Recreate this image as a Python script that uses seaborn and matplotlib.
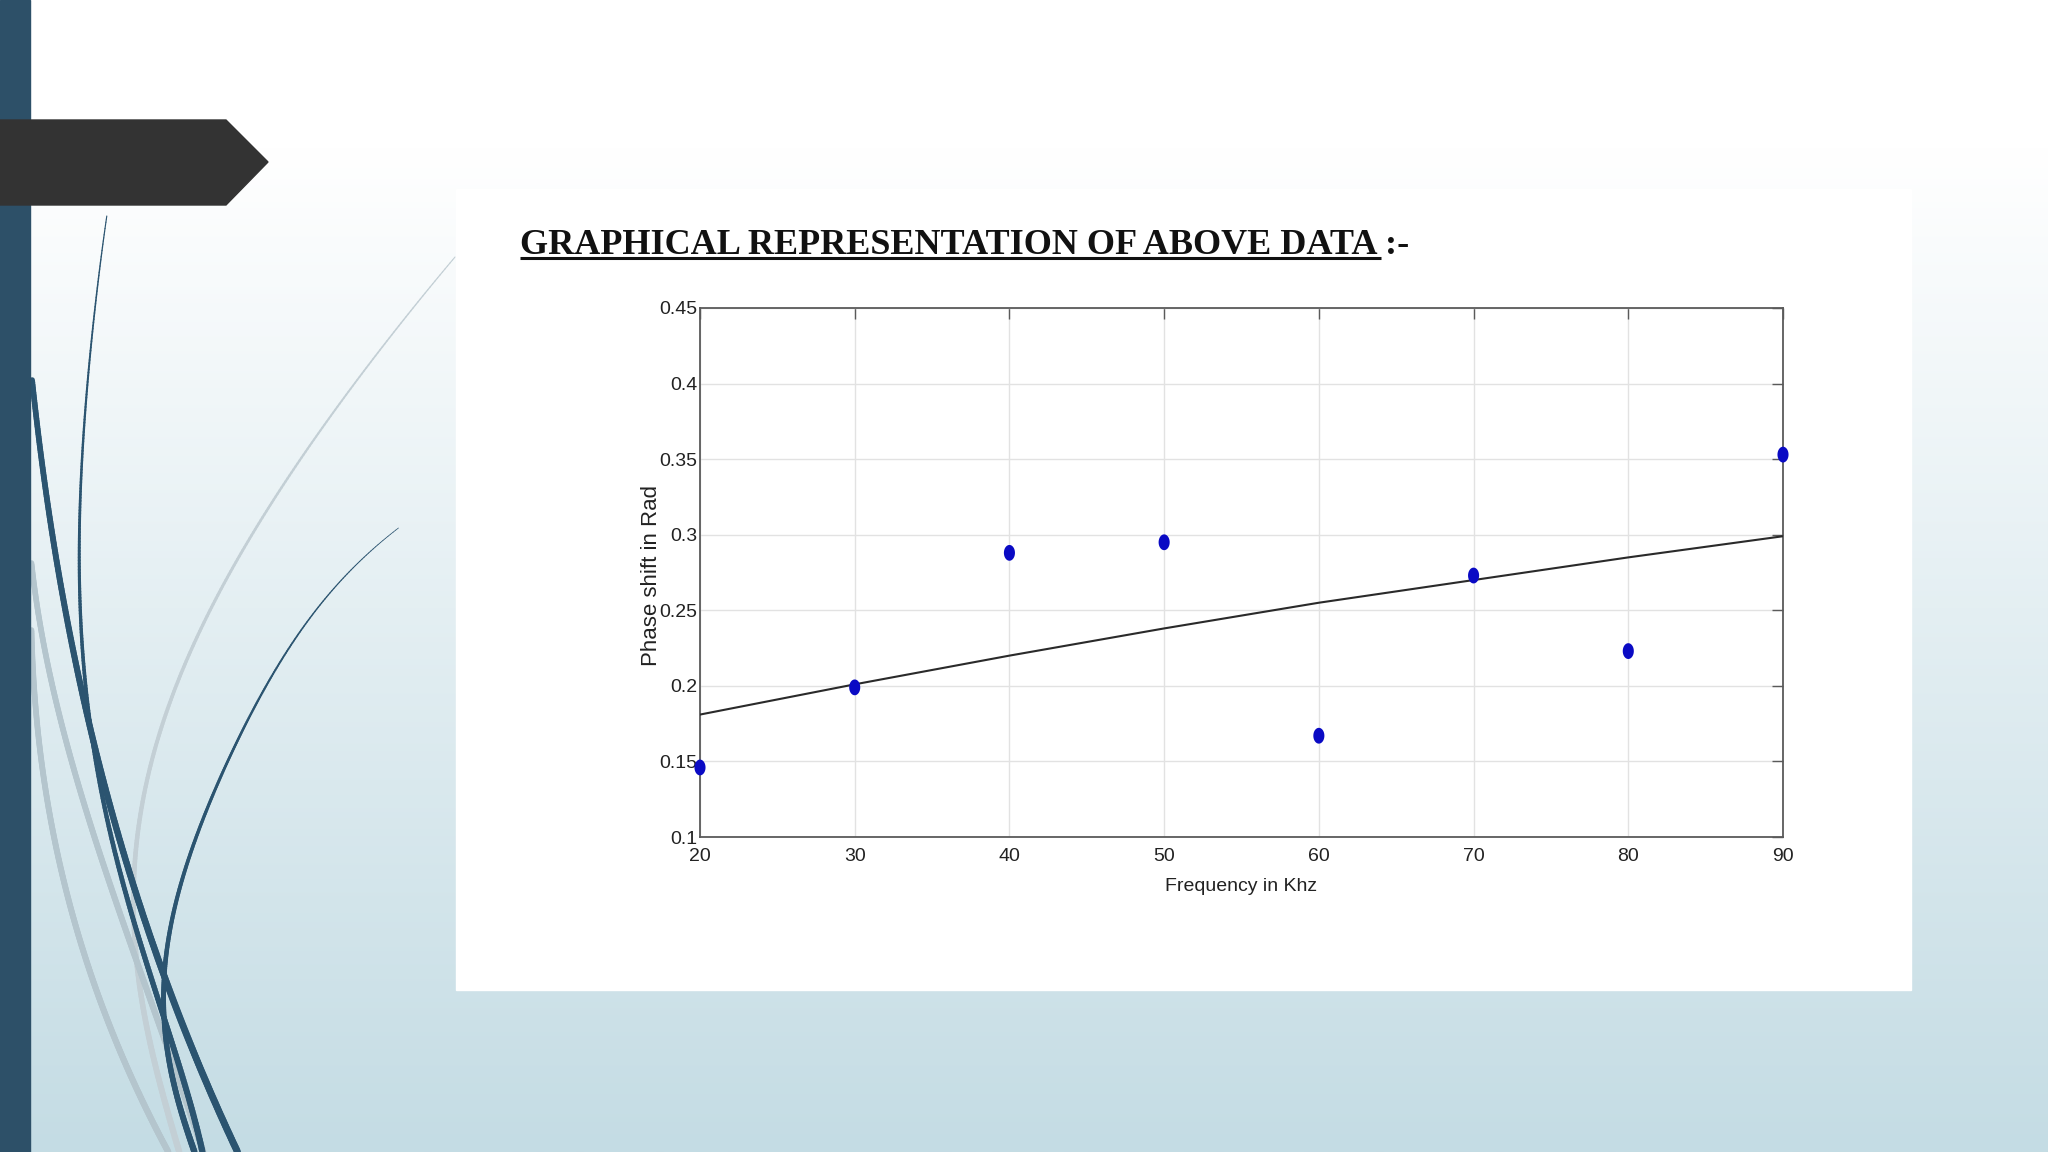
import numpy as np
import matplotlib
matplotlib.use("Agg")
import matplotlib.pyplot as plt
import seaborn as sns
from matplotlib.path import Path
from matplotlib.patches import Rectangle, Polygon
from matplotlib.collections import LineCollection

# ---------------- data ----------------
freq_khz = [20, 30, 40, 50, 60, 70, 80, 90]
phase_rad = [0.146, 0.199, 0.288, 0.295, 0.167, 0.273, 0.223, 0.353]
fit_x = [20, 30, 40, 50, 60, 70, 80, 90]
fit_y = [0.181, 0.201, 0.220, 0.238, 0.255, 0.270, 0.285, 0.299]
x_ticks = [20, 30, 40, 50, 60, 70, 80, 90]
y_ticks = [0.1, 0.15, 0.2, 0.25, 0.3, 0.35, 0.4, 0.45]
y_tick_labels = ["0.1", "0.15", "0.2", "0.25", "0.3", "0.35", "0.4", "0.45"]
title = "GRAPHICAL REPRESENTATION OF ABOVE DATA "
title_tail = ":-"
x_label = "Frequency in Khz"
y_label = "Phase shift in Rad"

sns.set_style("white")
plt.rcParams["font.family"] = ["Liberation Sans", "DejaVu Sans"]

W, H = 2048, 1152
fig = plt.figure(figsize=(20.48, 11.52), dpi=100)

# ---------------- slide background ----------------
bg = fig.add_axes([0, 0, 1, 1])
bg.set_xlim(0, W)
bg.set_ylim(H, 0)
bg.axis("off")

top_c = np.array([1.0, 1.0, 1.0])
bot_c = np.array([0xc4, 0xdc, 0xe4]) / 255.0
yy = np.linspace(0, 1, 400)
t = np.clip((yy * H - 150) / (H - 150), 0, 1)
grad = top_c[None, :] * (1 - t[:, None]) + bot_c[None, :] * t[:, None]
bg.imshow(grad[:, None, :], extent=[0, W, H, 0], aspect="auto", zorder=0)


def curve(pts, color, w0, w1, z=1, deg=4):
    p = np.array(pts, dtype=float)
    coef = np.polyfit(p[:, 1], p[:, 0], deg)
    ys = np.linspace(p[0, 1], p[-1, 1], 300)
    xs = np.polyval(coef, ys)
    c = np.c_[xs, ys]
    segs = np.stack([c[:-1], c[1:]], axis=1)
    lw = np.linspace(w0, w1, len(segs))
    bg.add_collection(LineCollection(segs, colors=color, linewidths=lw, zorder=z,
                                     capstyle="round"))


gray = "#b4c5cd"
dark = "#2b5470"
# light grey sweeps
curve([(455, 257), (383, 347), (306, 447), (249, 547), (199, 630), (170, 700),
       (153, 750), (138, 850), (134, 933), (145, 1017), (168, 1117), (180, 1152)],
      "#c3cfd5", 0.8, 4.5, 1, deg=5)
curve([(31, 563), (46, 650), (77, 783), (115, 900), (145, 983), (180, 1083), (203, 1152)],
      gray, 4, 4.5, 1, deg=3)
curve([(31, 630), (42, 750), (61, 883), (96, 983), (134, 1083), (168, 1152)],
      gray, 4, 4.5, 1, deg=3)
# dark sweeps
curve([(107, 216), (94, 313), (85, 413), (80, 547), (84, 650), (88, 733), (115, 850),
       (145, 950), (172, 1050), (203, 1152)], dark, 0.8, 4.5, 2, deg=5)
curve([(31, 380), (46, 480), (61, 580), (73, 650), (92, 750), (134, 883), (168, 983),
       (237, 1152)], dark, 4, 5, 2, deg=3)
curve([(400, 528), (337, 580), (287, 660), (230, 750), (191, 850), (168, 950),
       (165, 1017), (172, 1083), (195, 1152)], dark, 0.5, 4.5, 2, deg=5)

bg.add_patch(Rectangle((0, 0), 30, H, color="#2d5068", zorder=3))
bg.add_patch(Polygon([(0, 120), (226, 120), (268, 162), (226, 205), (0, 205)],
                     closed=True, color="#333333", zorder=4))
bg.add_patch(Rectangle((456, 189), 1455, 801, color="white", zorder=5))

# ---------------- title ----------------
tfs = 26
ty = 246
tt = fig.text(520 / W, 1 - ty / H, title, fontfamily="Liberation Serif", fontweight="bold",
              fontsize=tfs, va="center", ha="left", color="#111111", zorder=6)
fig.canvas.draw()
bb = tt.get_window_extent()
fig.text(bb.x1 / W, 1 - ty / H, title_tail, fontfamily="Liberation Serif", fontweight="bold",
         fontsize=tfs, va="center", ha="left", color="#111111")
bg.plot([bb.x0, bb.x1 - 4], [258, 258], color="#111111", lw=2.2, zorder=6,
        solid_capstyle="butt")

# ---------------- chart ----------------
ax = fig.add_axes([700 / W, 1 - 837 / H, 1083 / W, 529 / H])
ax.set_zorder(7)
ax.patch.set_facecolor("white")

th = np.linspace(0, 2 * np.pi, 41)
ell = Path(np.c_[0.70 * np.cos(th), np.sin(th)])
sns.lineplot(x=fit_x, y=fit_y, ax=ax, color="#2a2a2a", linewidth=1.5, zorder=3)
sns.scatterplot(x=freq_khz, y=phase_rad, ax=ax, color="#0a0ac4", marker=ell, s=130,
                edgecolor="none", zorder=4, clip_on=False)

ax.set_xlim(20, 90)
ax.set_ylim(0.1, 0.45)
ax.set_xticks(x_ticks)
ax.set_xticklabels([str(v) for v in x_ticks])
ax.set_yticks(y_ticks)
ax.set_yticklabels(y_tick_labels)
ax.grid(True, color="#e2e2e2", linewidth=1.0)
ax.set_axisbelow(True)
for sp in ax.spines.values():
    sp.set_color("#5a5a5a")
    sp.set_linewidth(1.3)
ax.tick_params(direction="in", top=True, right=True, length=8, width=1.0, color="#5a5a5a",
               labelcolor="#222222")
ax.tick_params(axis="x", pad=8)
ax.tick_params(axis="y", pad=2)
for lab in ax.get_xticklabels() + ax.get_yticklabels():
    lab.set_fontsize(14)

ax.set_xlabel(x_label, fontsize=14, color="#222222")
ax.xaxis.set_label_coords(0.4995, -0.078)
ax.set_ylabel(y_label, fontsize=16, color="#222222")
ax.yaxis.set_label_coords(-0.035, 0.495)

fig.savefig("out.png", dpi=100)
